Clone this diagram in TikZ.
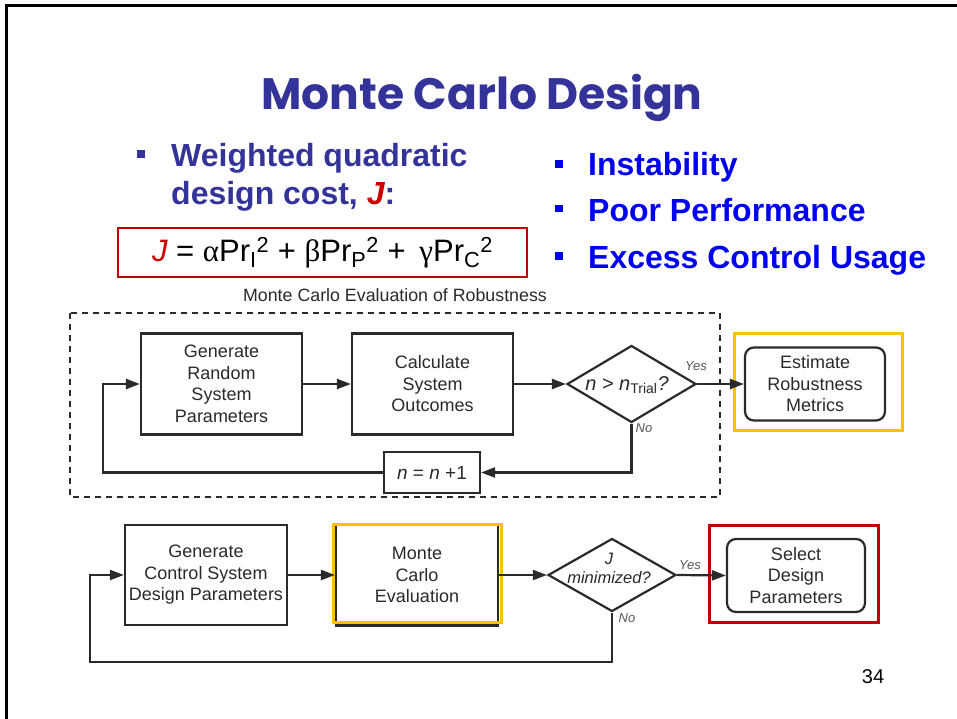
\documentclass[tikz,border=0pt]{standalone}
\usepackage{fontspec}
\setmainfont{Liberation Sans}
\newfontfamily\greekfont{Liberation Serif}
\newfontfamily\titlefont{Poppins}
\usetikzlibrary{arrows.meta,shapes.geometric}
\definecolor{titleblue}{HTML}{333399}
\definecolor{bulletblue}{HTML}{0000F0}
\definecolor{jred}{HTML}{CC0000}
\definecolor{framered}{HTML}{C00000}
\definecolor{hlorange}{HTML}{FFC000}
\definecolor{ink}{HTML}{2A2A2A}
\tikzset{
  x=1pt, y=-1pt,
  flowbox/.style={draw=ink, line width=2.2pt, align=center, inner sep=0pt,
    font=\fontsize{18}{21.5}\selectfont, text=ink},
  roundbox/.style={flowbox, rounded corners=9pt},
  decision/.style={draw=ink, line width=2.2pt, diamond, inner sep=0pt},
  flowarrow/.style={draw=ink, line width=2.2pt, -{Triangle[length=14pt,width=10pt]}},
  tag/.style={font=\fontsize{13}{13}\selectfont\itshape, text=ink!80, inner sep=0pt},
  highlight/.style={line width=3pt, inner sep=0pt},
  bulletsq/.style={inner sep=0pt, minimum size=7.5pt},
  bigtext/.style={font=\bfseries\fontsize{32}{32}\selectfont, anchor=base west, inner sep=0pt},
}
\begin{document}
\begin{tikzpicture}
\useasboundingbox (0,0) rectangle (957,719);
\fill[white] (0,0) rectangle (957,719);

% slide frame
\draw[line width=3pt, black] (6,719) -- (6,6) -- (957,6);

% title
\node[text=titleblue, font=\titlefont\bfseries\fontsize{44}{48}\selectfont, anchor=base] (title) at (482,110) {Monte Carlo Design};

% left bullet
\node[bulletsq, fill=titleblue] (bl1) at (141,154) {};
\node[bigtext, text=titleblue] (cost1) at (171,167) {Weighted quadratic};
\node[bigtext, text=titleblue] (cost2) at (171,205) {design cost, {\color{jred}\itshape J}:};

% cost formula
\node[draw=framered, line width=2.5pt, minimum width=409pt, minimum height=49pt, inner sep=0pt,
  font=\fontsize{31}{31}\selectfont] (formula) at (322.5,252.5)
  {{\color{jred}\itshape J} = {\greekfont α}Pr\textsubscript{I}\textsuperscript{2} + {\greekfont β}Pr\textsubscript{P}\textsuperscript{2} +\, {\greekfont γ}Pr\textsubscript{C}\textsuperscript{2}};

% right bullets
\node[bulletsq, fill=bulletblue] (br1) at (559,164) {};
\node[bulletsq, fill=bulletblue] (br2) at (559,208.5) {};
\node[bulletsq, fill=bulletblue] (br3) at (559,256) {};
\node[bigtext, text=bulletblue] (r1) at (588,176) {Instability};
\node[bigtext, text=bulletblue] (r2) at (588,221.5) {Poor Performance};
\node[bigtext, text=bulletblue] (r3) at (588,268.5) {Excess Control Usage};

% Monte Carlo evaluation loop
\node[text=ink, font=\fontsize{17.8}{18}\selectfont] (mctitle) at (395,295) {Monte Carlo Evaluation of Robustness};
\draw[ink, line width=2pt, dash pattern=on 6pt off 5pt] (70,313) rectangle (720,497);

\node[flowbox, minimum width=161pt, minimum height=101pt] (gen) at (221.5,384) {Generate\\Random\\System\\Parameters};
\node[flowbox, minimum width=161pt, minimum height=101pt] (calc) at (432.5,384) {Calculate\\System\\Outcomes};
\node[decision, minimum width=129pt, minimum height=77pt, aspect=1.675] (ntest) at (631.5,384) {};
\node[font=\fontsize{20}{20}\selectfont, text=ink, inner sep=0pt] (ntesttxt) at (627,385)
  {{\itshape n > n}\textsubscript{Trial}{\itshape ?}};
\node[roundbox, minimum width=140pt, minimum height=73pt] (est) at (815,384) {Estimate\\Robustness\\Metrics};
\node[draw=hlorange, highlight, minimum width=168pt, minimum height=97pt] (hlest) at (818,381.5) {};
\node[flowbox, minimum width=96pt, minimum height=41pt, font=\fontsize{19}{19}\selectfont] (incr) at (432,472.5)
  {{\itshape n} = {\itshape n} +1};
\node[tag] (yes1) at (696,366) {Yes};
\node[tag] (no1) at (644,428) {No};

\coordinate (back1) at (103,472.5);
\draw[flowarrow] (gen) -- (calc);
\draw[flowarrow] (calc) -- (ntest);
\draw[flowarrow] (ntest.east) -- (est.west);
\draw[flowarrow] (ntest.south) |- (incr.east);
\draw[flowarrow] (incr.west) -- (back1) |- (gen.west);

% design loop
\node[flowbox, minimum width=162pt, minimum height=100pt] (ctrl) at (206,575) {Generate\\Control System\\Design Parameters};
\node[flowbox, minimum width=162pt, minimum height=101pt] (mce) at (417,575) {Monte\\Carlo\\Evaluation};
\node[draw=hlorange, highlight, minimum width=168pt, minimum height=98pt] (hlmce) at (417,573) {};
\node[decision, minimum width=128pt, minimum height=73pt, aspect=1.75] (jtest) at (612,575) {};
\node[font=\fontsize{16.5}{19}\selectfont\itshape, text=ink, align=center, inner sep=0pt] (jtesttxt) at (609,568)
  {J\\minimized?};
\node[roundbox, minimum width=138pt, minimum height=73pt] (sel) at (796,575.5) {Select\\Design\\Parameters};
\node[draw=framered, highlight, minimum width=169pt, minimum height=97pt] (hlsel) at (793.5,573.5) {};
\node[tag] (yes2) at (690,565) {Yes};
\node[tag] (no2) at (627,618) {No};

\coordinate (back2) at (612,662);
\coordinate (back3) at (90,662);
\draw[flowarrow] (ctrl) -- (mce);
\draw[flowarrow] (mce.east) -- (jtest.west);
\draw[flowarrow] (jtest.east) -- (sel.west);
\draw[flowarrow] (jtest.south) -- (back2) -- (back3) |- (ctrl.west);

% page number
\node[font=\fontsize{20}{20}\selectfont, text=black] (pagenum) at (873,677) {34};
\end{tikzpicture}
\end{document}
